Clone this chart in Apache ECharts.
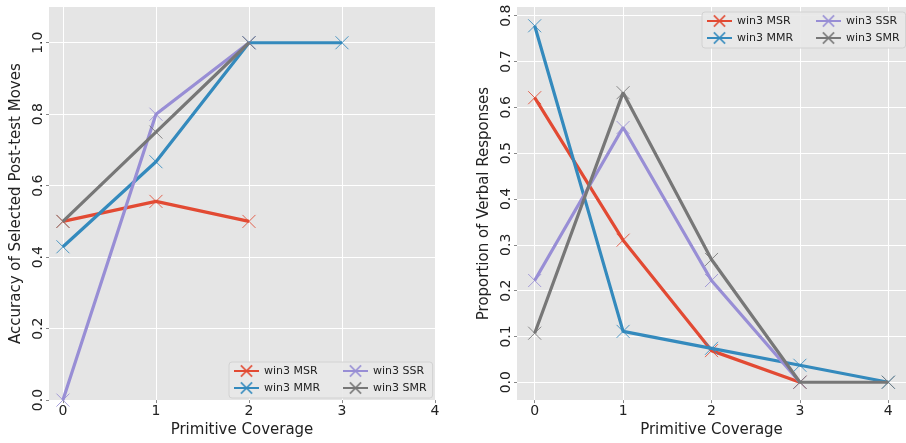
<!DOCTYPE html>
<html>
<head>
<meta charset="utf-8">
<script src="https://cdn.jsdelivr.net/npm/echarts@6/dist/echarts.min.js"></script>
<style>
html,body{margin:0;padding:0;background:#fff;}
#c{width:906px;height:443px;}
</style>
</head>
<body>
<div id="c"></div>
<script>
// ---- data ----
const seriesNames = ['win3 MSR', 'win3 MMR', 'win3 SSR', 'win3 SMR'];
const xTicks = [0, 1, 2, 3, 4];
// Left: accuracy of selected post-test moves (x = 0,1,2,...)
const accMSR = [0.5, 0.556, 0.5];
const accMMR = [0.429, 0.667, 1.0, 1.0];
const accSSR = [0.0, 0.8, 1.0];
const accSMR = [0.5, 0.75, 1.0];
// Right: proportion of verbal responses
const verbMSR = [0.621, 0.310, 0.069, 0.0];
const verbMMR = [0.778, 0.111, 0.074, 0.037, 0.0];
const verbSSR = [0.222, 0.556, 0.222, 0.0];
const verbSMR = [0.107, 0.632, 0.268, 0.0, 0.0];
const yTicksLeft = [0, 0.2, 0.4, 0.6, 0.8, 1.0];
const yTicksRight = [0, 0.1, 0.2, 0.3, 0.4, 0.5, 0.6, 0.7, 0.8];

const colors = ['#E24A33', '#348ABD', '#988ED5', '#777777'];
const FONT = 'DejaVu Sans';
const xSym = 'path://M0,0L10,10M10,0L0,10';

function toPairs(arr) { return arr.map((v, i) => [i, v]); }

function mkSeries(name, arr, idx, gi) {
  const c = colors[seriesNames.indexOf(name)];
  return {
    type: 'line', name: name, xAxisIndex: gi, yAxisIndex: gi,
    data: toPairs(arr),
    symbol: xSym, symbolSize: 13,
    showAllSymbol: true,
    lineStyle: {color: c, width: 3.2},
    itemStyle: {color: c, borderColor: c, borderWidth: 1, opacity: 0.85},
    emphasis: {disabled: true},
    z: 2 + idx
  };
}

function xAxisCfg(gi, min, max) {
  return {
    type: 'value', gridIndex: gi, min: min, max: max,
    minInterval: 1, maxInterval: 1,
    name: 'Primitive Coverage', nameLocation: 'middle', nameGap: 22,
    nameTextStyle: {fontFamily: FONT, fontSize: 15, color: '#222'},
    axisLine: {show: false, onZero: false},
    axisTick: {show: true, length: 3, lineStyle: {color: '#888'}, customValues: xTicks},
    axisLabel: {fontFamily: FONT, fontSize: 14, color: '#222', margin: 4,
      customValues: xTicks,
      formatter: v => String(Math.round(v))},
    splitLine: {show: true, lineStyle: {color: '#ffffff', width: 1}}
  };
}

function yAxisCfg(gi, min, max, step, ticks, name) {
  return {
    type: 'value', gridIndex: gi, min: min, max: max,
    minInterval: step, maxInterval: step,
    name: name, nameLocation: 'middle', nameGap: 25, nameRotate: 90,
    nameTextStyle: {fontFamily: FONT, fontSize: 15, color: '#222'},
    axisLine: {show: false, onZero: false},
    axisTick: {show: true, length: 3, lineStyle: {color: '#888'}, customValues: ticks},
    axisLabel: {fontFamily: FONT, fontSize: 14, color: '#222', margin: 4, rotate: 90,
      customValues: ticks,
      formatter: v => v.toFixed(1)},
    splitLine: {show: true, lineStyle: {color: '#ffffff', width: 1}}
  };
}

function legendCfg(left, top) {
  return {
    left: left, top: top, orient: 'horizontal', width: 196,
    data: ['win3 MSR', 'win3 SSR', 'win3 MMR', 'win3 SMR'],
    itemWidth: 25, itemHeight: 14, itemGap: 3,
    padding: [2, 6, 3, 4],
    backgroundColor: 'rgba(232,232,232,0.9)',
    borderColor: '#d2d2d2', borderWidth: 1, borderRadius: 3,
    selectedMode: false,
    formatter: function (n) {
      return (n === 'win3 MSR' || n === 'win3 MMR') ? '{a|' + n + '}' : '{b|' + n + '}';
    },
    textStyle: {fontFamily: FONT, fontSize: 11, color: '#222', lineHeight: 14,
      rich: {a: {width: 75, fontFamily: FONT, fontSize: 11, color: '#222'},
             b: {fontFamily: FONT, fontSize: 11, color: '#222'}}}
  };
}

const chart = echarts.init(document.getElementById('c'), null, {renderer: 'canvas'});
chart.setOption({
  animation: false,
  backgroundColor: '#ffffff',
  grid: [
    {left: 49, top: 7, width: 386, height: 396, show: true, backgroundColor: '#E5E5E5', borderWidth: 0, containLabel: false},
    {left: 517, top: 7, width: 389, height: 396, show: true, backgroundColor: '#E5E5E5', borderWidth: 0, containLabel: false}
  ],
  xAxis: [xAxisCfg(0, -0.15, 4), xAxisCfg(1, -0.2, 4.2)],
  yAxis: [
    yAxisCfg(0, 0, 1.1, 0.2, yTicksLeft, 'Accuracy of Selected Post-test Moves'),
    yAxisCfg(1, -0.039, 0.819, 0.1, yTicksRight, 'Proportion of Verbal Responses')
  ],
  legend: [legendCfg(229, 362), legendCfg(702, 12)],
  series: [
    mkSeries('win3 MSR', accMSR, 0, 0),
    mkSeries('win3 MMR', accMMR, 1, 0),
    mkSeries('win3 SSR', accSSR, 2, 0),
    mkSeries('win3 SMR', accSMR, 3, 0),
    mkSeries('win3 MSR', verbMSR, 0, 1),
    mkSeries('win3 MMR', verbMMR, 1, 1),
    mkSeries('win3 SSR', verbSSR, 2, 1),
    mkSeries('win3 SMR', verbSMR, 3, 1)
  ]
});
</script>
</body>
</html>
